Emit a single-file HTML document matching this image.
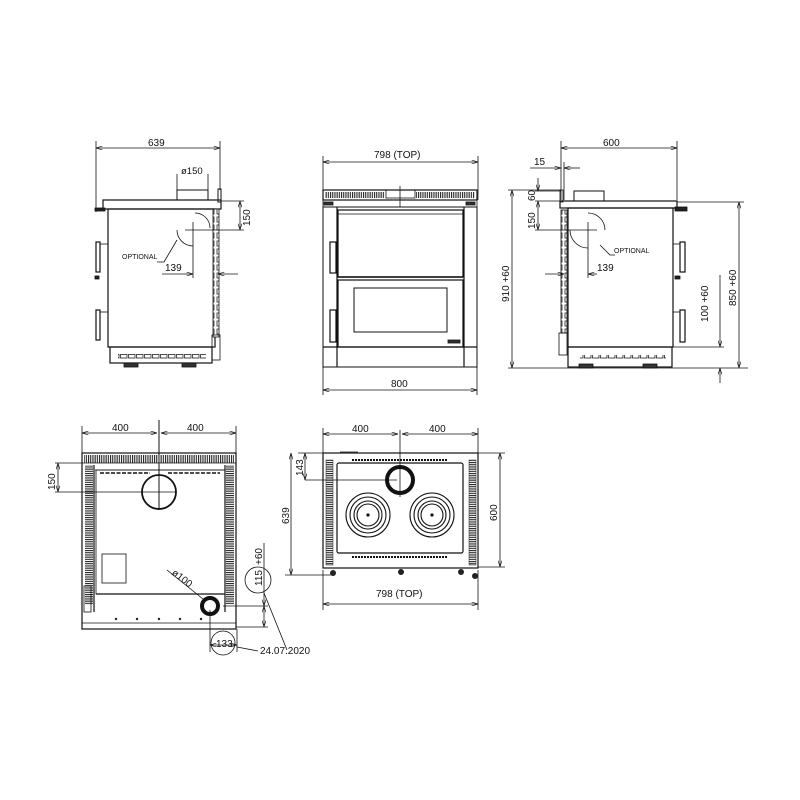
<!DOCTYPE html>
<html><head><meta charset="utf-8"><style>
html,body{margin:0;padding:0;background:#fff;}
svg{display:block;}
text{font-family:"Liberation Sans",sans-serif;fill:#111;}
</style></head><body>
<svg width="800" height="800" viewBox="0 0 800 800" xmlns="http://www.w3.org/2000/svg">
<defs>
<pattern id="vs" width="2.2" height="10" patternUnits="userSpaceOnUse"><rect width="2.2" height="10" fill="#fff"/><rect width="1.1" height="10" fill="#222"/></pattern>
<pattern id="hs" width="10" height="2.2" patternUnits="userSpaceOnUse"><rect width="10" height="2.2" fill="#fff"/><rect width="10" height="1.1" fill="#222"/></pattern>
<pattern id="lad" width="6" height="8" patternUnits="userSpaceOnUse"><rect width="6" height="8" fill="#fff"/><rect x="1" y="1" width="3" height="5" fill="none" stroke="#222" stroke-width="0.8"/></pattern>
<pattern id="pl" width="8" height="6" patternUnits="userSpaceOnUse"><rect width="8" height="6" fill="#fff"/><rect x="0.5" y="0.5" width="6.5" height="3.5" fill="none" stroke="#222" stroke-width="0.8"/></pattern>
<marker id="a" viewBox="0 0 10 6" refX="10" refY="3" markerWidth="8" markerHeight="5" orient="auto-start-reverse"><path d="M0,0 L10,3 L0,6" fill="none" stroke="#111" stroke-width="1"/></marker>
</defs>
<g fill="none" stroke="#111" stroke-width="0.8">

<!-- ========== LEFT SIDE VIEW ========== -->
<line x1="96" y1="141" x2="96" y2="212"/><line x1="220" y1="141" x2="220" y2="190"/>
<line x1="96" y1="148" x2="220" y2="148" marker-start="url(#a)" marker-end="url(#a)"/>
<line x1="177" y1="174" x2="177" y2="190"/><line x1="208" y1="174" x2="208" y2="190"/>
<rect x="177" y="190" width="31" height="10" stroke-width="1"/>
<rect x="218" y="189" width="3" height="13" stroke-width="1"/>
<rect x="103" y="200" width="118" height="9" stroke-width="1.2"/>
<rect x="108" y="209" width="107" height="138" stroke-width="1.2"/>
<rect x="213" y="209" width="6" height="128" fill="url(#lad)"/>
<rect x="212" y="335" width="8" height="25"/>
<rect x="110" y="347" width="102" height="16" stroke-width="1.2"/>
<rect x="118" y="354" width="88" height="5" fill="url(#pl)" stroke="none"/>
<rect x="124" y="363" width="14" height="4" fill="#333"/><rect x="182" y="363" width="14" height="4" fill="#333"/>
<rect x="95" y="208" width="10" height="3" fill="#222"/>
<rect x="96" y="242" width="4" height="30" stroke-width="1.2"/><path d="M100 244 h8"/>
<rect x="96" y="310" width="4" height="30" stroke-width="1.2"/><path d="M100 312 h8"/>
<rect x="95" y="276" width="4" height="3" fill="#222"/>
<!-- dims -->
<line x1="221" y1="201" x2="244" y2="201"/><line x1="185" y1="230" x2="244" y2="230"/>
<line x1="240" y1="201" x2="240" y2="230" marker-start="url(#a)" marker-end="url(#a)"/>
<line x1="193" y1="222" x2="193" y2="278"/>
<line x1="162" y1="274" x2="193" y2="274" marker-end="url(#a)"/>
<line x1="218" y1="274" x2="238" y2="274" marker-start="url(#a)"/>
<path d="M177 230 A16 16 0 0 0 193 246"/>
<path d="M195 213 A15 15 0 0 1 210 228"/>
<path d="M157 262 h7 l13 -22"/>

<!-- ========== FRONT VIEW ========== -->
<line x1="323" y1="156" x2="323" y2="200"/><line x1="478" y1="156" x2="478" y2="200"/>
<line x1="323" y1="162" x2="478" y2="162" marker-start="url(#a)" marker-end="url(#a)"/>
<rect x="323" y="190" width="154" height="10" stroke-width="1.2"/>
<rect x="325" y="192" width="60" height="6" fill="url(#vs)" stroke="none"/>
<rect x="416" y="192" width="59" height="6" fill="url(#vs)" stroke="none"/>
<rect x="386" y="190" width="29" height="8"/>
<line x1="400" y1="186" x2="400" y2="207"/>
<rect x="323" y="200" width="154" height="7"/>
<rect x="324" y="202" width="9" height="3" fill="#333"/><rect x="466" y="202" width="9" height="3" fill="#333"/>
<rect x="323" y="207" width="154" height="160" stroke-width="1"/>
<line x1="337" y1="207" x2="337" y2="367" stroke-width="1.2"/><line x1="464" y1="207" x2="464" y2="367" stroke-width="1.2"/>
<rect x="338" y="210" width="125" height="67" stroke-width="1.2"/>
<line x1="338" y1="214" x2="463" y2="214"/>
<line x1="338" y1="277" x2="463" y2="277" stroke-width="1.5"/>
<rect x="338" y="280" width="125" height="67" stroke-width="1.2"/>
<rect x="354" y="288" width="93" height="44" stroke-width="1"/>
<rect x="448" y="340" width="12" height="3" fill="#333"/>
<line x1="323" y1="347" x2="477" y2="347" stroke-width="1.2"/>
<rect x="330" y="242" width="6" height="31" stroke-width="1.2"/>
<rect x="330" y="310" width="6" height="32" stroke-width="1.2"/>
<line x1="323" y1="367" x2="323" y2="395"/><line x1="477" y1="367" x2="477" y2="395"/>
<line x1="323" y1="390" x2="477" y2="390" marker-start="url(#a)" marker-end="url(#a)"/>

<!-- ========== RIGHT SIDE VIEW ========== -->
<line x1="561" y1="141" x2="561" y2="200"/><line x1="677" y1="141" x2="677" y2="200"/>
<line x1="561" y1="148" x2="677" y2="148" marker-start="url(#a)" marker-end="url(#a)"/>
<line x1="530" y1="168" x2="561" y2="168" marker-end="url(#a)"/>
<line x1="564" y1="168" x2="580" y2="168" marker-start="url(#a)"/>
<line x1="564" y1="162" x2="564" y2="200"/>
<rect x="560" y="190" width="3" height="12"/>
<rect x="574" y="191" width="30" height="10" stroke-width="1"/>
<rect x="560" y="201" width="117" height="7" stroke-width="1.2"/>
<rect x="568" y="208" width="105" height="139" stroke-width="1.2"/>
<rect x="561" y="210" width="6" height="123" fill="url(#lad)"/>
<rect x="559" y="333" width="8" height="22"/>
<rect x="568" y="347" width="104" height="20" stroke-width="1.2"/>
<rect x="580" y="355" width="86" height="5" fill="url(#pl)" stroke="none"/>
<rect x="579" y="364" width="14" height="4" fill="#333"/><rect x="643" y="364" width="14" height="4" fill="#333"/>
<rect x="675" y="207" width="12" height="4" fill="#222"/>
<rect x="680" y="242" width="5" height="30" stroke-width="1.2"/><path d="M673 244 h7"/>
<rect x="680" y="310" width="5" height="32" stroke-width="1.2"/><path d="M673 312 h7"/>
<rect x="675" y="276" width="5" height="3" fill="#222"/>
<!-- right dims -->
<line x1="535" y1="191" x2="561" y2="191"/><line x1="535" y1="201" x2="561" y2="201"/><line x1="535" y1="230" x2="597" y2="230"/>
<line x1="538" y1="178" x2="538" y2="191" marker-end="url(#a)"/>
<line x1="538" y1="201" x2="538" y2="230" marker-start="url(#a)" marker-end="url(#a)"/>
<line x1="508" y1="190" x2="561" y2="190"/>
<line x1="508" y1="368" x2="748" y2="368"/>
<line x1="512" y1="190" x2="512" y2="368" marker-start="url(#a)" marker-end="url(#a)"/>
<line x1="677" y1="202" x2="744" y2="202"/>
<line x1="739" y1="202" x2="739" y2="368" marker-start="url(#a)" marker-end="url(#a)"/>
<line x1="673" y1="347" x2="724" y2="347"/>
<line x1="720" y1="275" x2="720" y2="347" marker-end="url(#a)"/>
<line x1="720" y1="368" x2="720" y2="383" marker-start="url(#a)"/>
<line x1="588" y1="222" x2="588" y2="278"/>
<line x1="545" y1="274" x2="564" y2="274" marker-end="url(#a)"/>
<line x1="588" y1="274" x2="597" y2="274" marker-start="url(#a)"/>
<path d="M570 230 A18 18 0 0 0 588 248"/>
<path d="M588 213 A17 17 0 0 1 605 230"/>
<path d="M600 245 l10 10 h5"/>

<!-- ========== BOTTOM-LEFT (TOP/PLAN) VIEW ========== -->
<line x1="82" y1="426" x2="82" y2="453"/><line x1="236" y1="426" x2="236" y2="453"/>
<line x1="82" y1="433" x2="157" y2="433" marker-start="url(#a)" marker-end="url(#a)"/>
<line x1="161" y1="433" x2="236" y2="433" marker-start="url(#a)" marker-end="url(#a)"/>
<line x1="159" y1="420" x2="159" y2="510" stroke-width="1"/>
<rect x="82" y="453" width="154" height="176" stroke-width="1.2"/>
<rect x="84" y="455" width="150" height="8" fill="url(#vs)" stroke="none"/>
<line x1="82" y1="463" x2="236" y2="463"/>
<rect x="85" y="465" width="8" height="140" fill="url(#hs)" stroke="none"/>
<rect x="226" y="465" width="8" height="140" fill="url(#hs)" stroke="none"/>
<line x1="94" y1="465" x2="94" y2="612" stroke-width="1.2"/><line x1="225" y1="465" x2="225" y2="612" stroke-width="1.2"/>
<line x1="95" y1="470" x2="225" y2="470"/>
<line x1="100" y1="473" x2="150" y2="473" stroke-dasharray="4 1.5" stroke-width="1.5"/>
<line x1="168" y1="473" x2="220" y2="473" stroke-dasharray="4 1.5" stroke-width="1.5"/>
<rect x="96" y="470" width="129" height="124"/>
<circle cx="159" cy="492" r="17" stroke-width="1.8"/>
<line x1="55" y1="492" x2="176" y2="492"/>
<line x1="55" y1="463" x2="82" y2="463"/>
<line x1="58" y1="463" x2="58" y2="492" marker-start="url(#a)" marker-end="url(#a)"/>
<rect x="102" y="554" width="24" height="29"/>
<line x1="96" y1="594" x2="225" y2="594" stroke-width="1.2"/>
<rect x="84" y="586" width="7" height="26"/>
<line x1="82" y1="623" x2="236" y2="623"/>
<g fill="#222" stroke="none"><circle cx="116" cy="619" r="1.2"/><circle cx="137" cy="619" r="1.2"/><circle cx="159" cy="619" r="1.2"/><circle cx="180" cy="619" r="1.2"/><circle cx="201" cy="619" r="1.2"/></g>
<circle cx="210" cy="606" r="8" stroke-width="4"/>
<line x1="167" y1="570" x2="203" y2="599"/>
<line x1="223" y1="606" x2="268" y2="606"/><line x1="236" y1="627" x2="268" y2="627"/>
<line x1="264" y1="543" x2="264" y2="606" marker-end="url(#a)"/>
<line x1="264" y1="606" x2="264" y2="627" marker-start="url(#a)" marker-end="url(#a)"/>
<circle cx="258" cy="580" r="13"/>
<line x1="210" y1="610" x2="210" y2="652"/><line x1="237" y1="629" x2="237" y2="652"/>
<line x1="210" y1="645" x2="237" y2="645" marker-start="url(#a)" marker-end="url(#a)"/>
<circle cx="223" cy="643" r="12"/>
<path d="M237 647 L258 651"/>
<path d="M264 593 L287 650"/>

<!-- ========== BOTTOM-RIGHT (HOB TOP) VIEW ========== -->
<line x1="323" y1="428" x2="323" y2="453"/><line x1="478" y1="428" x2="478" y2="453"/>
<line x1="323" y1="434" x2="398" y2="434" marker-start="url(#a)" marker-end="url(#a)"/>
<line x1="402" y1="434" x2="478" y2="434" marker-start="url(#a)" marker-end="url(#a)"/>
<line x1="400" y1="430" x2="400" y2="497"/>
<rect x="323" y="453" width="155" height="115" stroke-width="1.2"/>
<line x1="340" y1="452" x2="358" y2="452"/>
<rect x="326" y="460" width="7" height="105" fill="url(#hs)" stroke="#222" stroke-width="0.5"/>
<rect x="469" y="460" width="7" height="105" fill="url(#hs)" stroke="#222" stroke-width="0.5"/>
<rect x="337" y="463" width="126" height="90" rx="2" stroke-width="1.2"/>
<line x1="352" y1="460" x2="448" y2="460" stroke-dasharray="2 1" stroke-width="2"/>
<line x1="352" y1="557" x2="448" y2="557" stroke-dasharray="2 1" stroke-width="2"/>
<circle cx="400" cy="480" r="13" stroke-width="4"/>
<g stroke-width="1.1">
<circle cx="368" cy="515" r="22"/><circle cx="368" cy="515" r="18"/><circle cx="368" cy="515" r="14"/><circle cx="368" cy="515" r="11"/>
<circle cx="432" cy="515" r="22"/><circle cx="432" cy="515" r="18"/><circle cx="432" cy="515" r="14"/><circle cx="432" cy="515" r="11"/>
</g>
<circle cx="368" cy="515" r="1.2" fill="#111"/><circle cx="432" cy="515" r="1.2" fill="#111"/>
<line x1="298" y1="453" x2="323" y2="453"/><line x1="305" y1="480" x2="397" y2="480"/>
<line x1="305" y1="453" x2="305" y2="480" marker-start="url(#a)" marker-end="url(#a)"/>
<line x1="285" y1="575" x2="333" y2="575"/>
<line x1="291" y1="453" x2="291" y2="575" marker-start="url(#a)" marker-end="url(#a)"/>
<line x1="478" y1="453" x2="505" y2="453"/><line x1="478" y1="567" x2="505" y2="567"/>
<line x1="500" y1="453" x2="500" y2="567" marker-start="url(#a)" marker-end="url(#a)"/>
<g fill="#222" stroke="none"><circle cx="333" cy="573" r="3"/><circle cx="401" cy="572" r="3"/><circle cx="461" cy="572" r="3"/><circle cx="475" cy="576" r="3"/></g>
<line x1="323" y1="570" x2="323" y2="610"/><line x1="478" y1="570" x2="478" y2="610"/>
<line x1="323" y1="604" x2="478" y2="604" marker-start="url(#a)" marker-end="url(#a)"/>
</g>

<!-- TEXT -->
<g font-size="10">
<text x="148" y="146">639</text>
<text x="181" y="174" font-size="9.5">ø150</text>
<text x="250" y="226" transform="rotate(-90 250 226)">150</text>
<text x="122" y="259" font-size="7">OPTIONAL</text>
<text x="165" y="271">139</text>
<text x="374" y="158">798  (TOP)</text>
<text x="391" y="387">800</text>
<text x="603" y="146">600</text>
<text x="534" y="165">15</text>
<text x="535" y="201" transform="rotate(-90 535 201)">60</text>
<text x="535" y="229" transform="rotate(-90 535 229)">150</text>
<text x="614" y="253" font-size="7">OPTIONAL</text>
<text x="597" y="271">139</text>
<text x="509" y="302" transform="rotate(-90 509 302)">910  +60</text>
<text x="736" y="306" transform="rotate(-90 736 306)">850  +60</text>
<text x="708" y="322" transform="rotate(-90 708 322)">100  +60</text>
<text x="112" y="431">400</text>
<text x="187" y="431">400</text>
<text x="55" y="490" transform="rotate(-90 55 490)">150</text>
<text x="171" y="574" transform="rotate(37 171 574)">ø100</text>
<text x="262" y="586" transform="rotate(-90 262 586)">115</text>
<text x="262" y="565" transform="rotate(-90 262 565)">+60</text>
<text x="216" y="647">133</text>
<text x="260" y="654">24.07.2020</text>
<text x="352" y="432">400</text>
<text x="429" y="432">400</text>
<text x="303" y="476" transform="rotate(-90 303 476)">143</text>
<text x="289" y="524" transform="rotate(-90 289 524)">639</text>
<text x="497" y="521" transform="rotate(-90 497 521)">600</text>
<text x="376" y="597">798  (TOP)</text>
</g>
</svg>
</body></html>
